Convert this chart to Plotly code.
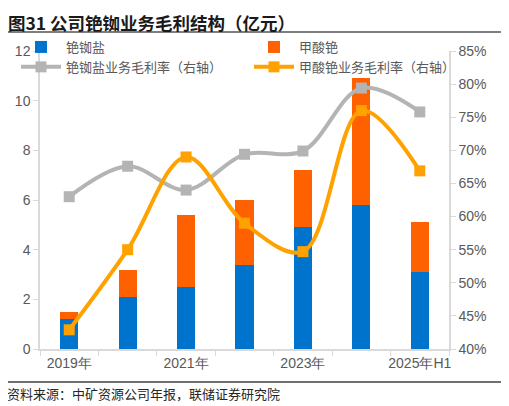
import plotly.graph_objects as go

years = ["2019", "2020", "2021", "2022", "2023", "2024", "2025H1"]
year_labels = ["2019年", "", "2021年", "", "2023年", "", "2025年H1"]
salt_profit = [1.2, 2.1, 2.5, 3.4, 4.9, 5.8, 3.1]
formate_profit = [0.3, 1.1, 2.9, 2.6, 2.3, 5.1, 2.0]
salt_margin = [63.0, 67.6, 64.0, 69.4, 69.9, 79.4, 75.8]
formate_margin = [42.9, 55.0, 69.0, 59.0, 54.7, 76.0, 66.9]

FONT = "Noto Sans CJK SC"
TICK_GRAY = "#595959"
AXIS_GRAY = "#D9D9D9"

fig = go.Figure()
fig.add_trace(go.Bar(x=years, y=salt_profit, name="铯铷盐", legend="legend",
                     marker=dict(color="#0074CC", line=dict(width=0)), width=0.31))
fig.add_trace(go.Bar(x=years, y=formate_profit, name="甲酸铯", legend="legend2",
                     marker=dict(color="#FF6000", line=dict(width=0)), width=0.31))
fig.add_trace(go.Scatter(x=years, y=salt_margin, name="铯铷盐业务毛利率（右轴）", yaxis="y2",
                         legend="legend", mode="lines+markers",
                         line=dict(color="#B4B4B4", width=4, shape="spline", smoothing=1),
                         marker=dict(symbol="square", size=11, color="#B4B4B4")))
fig.add_trace(go.Scatter(x=years, y=formate_margin, name="甲酸铯业务毛利率（右轴）", yaxis="y2",
                         legend="legend2", mode="lines+markers",
                         line=dict(color="#FFA200", width=4, shape="spline", smoothing=1),
                         marker=dict(symbol="square", size=11, color="#FFA200")))

tick_font = dict(family="Liberation Sans", size=14, color=TICK_GRAY)
legend_style = dict(orientation="v", xanchor="left", yanchor="top", bgcolor="rgba(0,0,0,0)",
                    font=dict(size=13, color=TICK_GRAY), traceorder="normal",
                    tracegroupgap=0, itemwidth=40)

# the page body adds an 8px margin, so the figure is 8px smaller than the window
fig.update_layout(
    width=501, height=398,
    margin=dict(l=32, r=60, t=43, b=57, autoexpand=False),
    barmode="stack",
    plot_bgcolor="white", paper_bgcolor="white",
    font=dict(family=FONT, size=13, color=TICK_GRAY),
    xaxis=dict(type="category", tickvals=years, ticktext=year_labels, tickson="boundaries",
               tickangle=0, ticks="outside", ticklen=5, tickcolor=AXIS_GRAY, showline=True,
               linecolor=AXIS_GRAY, linewidth=1.5, tickfont=tick_font, showgrid=False,
               automargin=False),
    yaxis=dict(range=[0, 12], dtick=2, showgrid=False, zeroline=False, showline=True,
               linecolor=AXIS_GRAY, linewidth=1.5, ticks="outside", ticklen=5, tickcolor=AXIS_GRAY,
               tickfont=tick_font, automargin=False),
    yaxis2=dict(range=[40, 85], dtick=5, overlaying="y", side="right", ticksuffix="%",
                showgrid=False, zeroline=False, showline=True, linecolor=AXIS_GRAY, linewidth=1.5,
                ticks="outside", ticklen=5, tickcolor=AXIS_GRAY, tickfont=tick_font,
                automargin=False),
    legend=dict(x=(16 - 40) / 409, y=(349 - 32) / 298, **legend_style),
    legend2=dict(x=(249 - 40) / 409, y=(349 - 32) / 298, **legend_style),
    showlegend=True,
)

# title, rules and source note
fig.add_annotation(text="<b>图31 公司铯铷业务毛利结构（亿元）</b>", xref="paper", yref="paper",
                   x=(6 - 40) / 409, y=(349 - 8) / 298, xanchor="left", yanchor="top",
                   showarrow=False, font=dict(size=17.5, color="#1a1a1a"))
fig.add_shape(type="line", xref="paper", yref="paper", x0=(5 - 40) / 409, x1=(503 - 40) / 409,
              y0=(349 - 32) / 298, y1=(349 - 32) / 298, line=dict(color="#7f7f7f", width=2))
fig.add_shape(type="line", xref="paper", yref="paper", x0=(5 - 40) / 409, x1=(503 - 40) / 409,
              y0=(349 - 382) / 298, y1=(349 - 382) / 298, line=dict(color="#404040", width=1.5))
fig.add_annotation(text="资料来源：中矿资源公司年报，联储证券研究院", xref="paper", yref="paper",
                   x=(5 - 40) / 409, y=(349 - 393) / 298, xanchor="left", yanchor="middle",
                   showarrow=False, font=dict(size=13, color="#262626"))

fig.write_html("out.html")
